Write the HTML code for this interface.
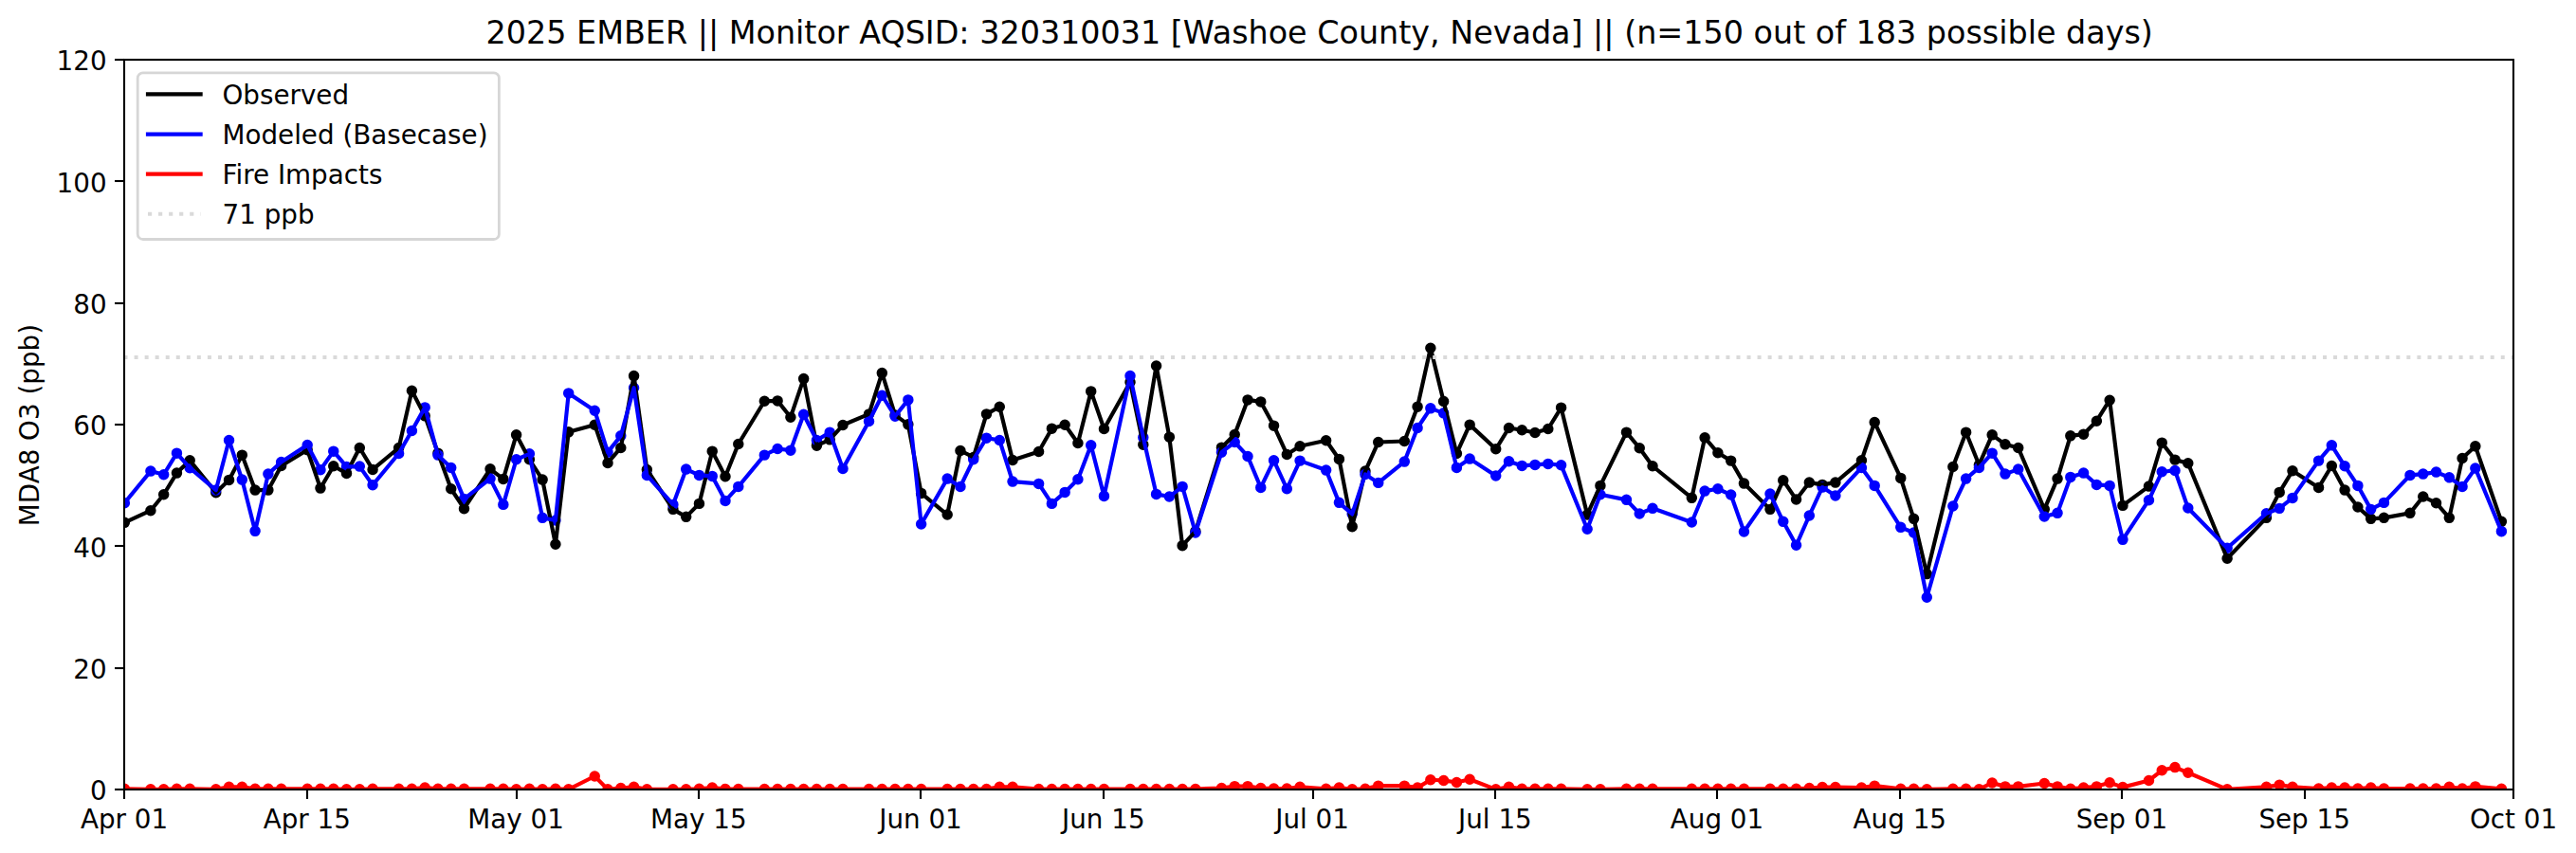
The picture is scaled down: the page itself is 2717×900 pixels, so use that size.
<!DOCTYPE html>
<html lang="en"><head><meta charset="utf-8"><title>2025 EMBER Monitor 320310031</title>
<style>html,body{margin:0;padding:0;background:#fff;}body{width:2717px;height:900px;overflow:hidden;}svg{display:block;}text{font-family:'DejaVu Sans', 'Liberation Sans', sans-serif;fill:#000;}</style>
</head><body>
<svg width="2717" height="900" viewBox="0 0 2717 900">
<rect x="0" y="0" width="2717" height="900" fill="#ffffff"/>
<defs><clipPath id="ax"><rect x="131.45" y="63.00" width="2520.00" height="770.00"/></clipPath></defs>
<g clip-path="url(#ax)" fill="#000000" stroke="#000000" stroke-width="2.78">
<circle cx="131.35" cy="551.35" r="4.35"/>
<circle cx="158.90" cy="538.70" r="4.35"/>
<circle cx="172.68" cy="521.73" r="4.35"/>
<circle cx="186.45" cy="499.10" r="4.35"/>
<circle cx="200.22" cy="485.79" r="4.35"/>
<circle cx="227.77" cy="519.73" r="4.35"/>
<circle cx="241.55" cy="506.42" r="4.35"/>
<circle cx="255.32" cy="480.13" r="4.35"/>
<circle cx="269.10" cy="517.07" r="4.35"/>
<circle cx="282.88" cy="517.07" r="4.35"/>
<circle cx="296.65" cy="491.45" r="4.35"/>
<circle cx="324.20" cy="474.81" r="4.35"/>
<circle cx="337.98" cy="515.07" r="4.35"/>
<circle cx="351.75" cy="491.78" r="4.35"/>
<circle cx="365.52" cy="499.43" r="4.35"/>
<circle cx="379.30" cy="472.48" r="4.35"/>
<circle cx="393.08" cy="495.44" r="4.35"/>
<circle cx="420.62" cy="472.48" r="4.35"/>
<circle cx="434.40" cy="412.25" r="4.35"/>
<circle cx="448.17" cy="438.87" r="4.35"/>
<circle cx="461.95" cy="478.14" r="4.35"/>
<circle cx="475.73" cy="515.74" r="4.35"/>
<circle cx="489.50" cy="536.71" r="4.35"/>
<circle cx="517.05" cy="494.78" r="4.35"/>
<circle cx="530.83" cy="505.42" r="4.35"/>
<circle cx="544.60" cy="458.84" r="4.35"/>
<circle cx="558.38" cy="484.79" r="4.35"/>
<circle cx="572.15" cy="506.09" r="4.35"/>
<circle cx="585.92" cy="574.31" r="4.35"/>
<circle cx="599.70" cy="455.84" r="4.35"/>
<circle cx="627.25" cy="448.19" r="4.35"/>
<circle cx="641.02" cy="488.45" r="4.35"/>
<circle cx="654.80" cy="472.48" r="4.35"/>
<circle cx="668.58" cy="396.61" r="4.35"/>
<circle cx="682.35" cy="495.44" r="4.35"/>
<circle cx="709.90" cy="537.37" r="4.35"/>
<circle cx="723.68" cy="545.36" r="4.35"/>
<circle cx="737.45" cy="531.38" r="4.35"/>
<circle cx="751.23" cy="476.14" r="4.35"/>
<circle cx="765.00" cy="502.76" r="4.35"/>
<circle cx="778.78" cy="468.49" r="4.35"/>
<circle cx="806.33" cy="423.23" r="4.35"/>
<circle cx="820.10" cy="422.90" r="4.35"/>
<circle cx="833.88" cy="440.20" r="4.35"/>
<circle cx="847.65" cy="399.60" r="4.35"/>
<circle cx="861.43" cy="470.15" r="4.35"/>
<circle cx="875.20" cy="463.83" r="4.35"/>
<circle cx="888.98" cy="448.52" r="4.35"/>
<circle cx="916.53" cy="436.87" r="4.35"/>
<circle cx="930.30" cy="393.61" r="4.35"/>
<circle cx="944.08" cy="437.87" r="4.35"/>
<circle cx="957.85" cy="447.85" r="4.35"/>
<circle cx="971.62" cy="520.40" r="4.35"/>
<circle cx="999.18" cy="543.03" r="4.35"/>
<circle cx="1012.95" cy="475.47" r="4.35"/>
<circle cx="1026.72" cy="482.46" r="4.35"/>
<circle cx="1040.50" cy="436.87" r="4.35"/>
<circle cx="1054.28" cy="429.22" r="4.35"/>
<circle cx="1068.05" cy="485.46" r="4.35"/>
<circle cx="1095.60" cy="476.47" r="4.35"/>
<circle cx="1109.38" cy="452.18" r="4.35"/>
<circle cx="1123.15" cy="448.19" r="4.35"/>
<circle cx="1136.92" cy="467.49" r="4.35"/>
<circle cx="1150.70" cy="412.91" r="4.35"/>
<circle cx="1164.47" cy="452.51" r="4.35"/>
<circle cx="1192.02" cy="403.26" r="4.35"/>
<circle cx="1205.80" cy="469.15" r="4.35"/>
<circle cx="1219.58" cy="385.96" r="4.35"/>
<circle cx="1233.35" cy="461.16" r="4.35"/>
<circle cx="1247.12" cy="575.64" r="4.35"/>
<circle cx="1260.90" cy="560.67" r="4.35"/>
<circle cx="1288.45" cy="472.15" r="4.35"/>
<circle cx="1302.22" cy="458.50" r="4.35"/>
<circle cx="1316.00" cy="421.90" r="4.35"/>
<circle cx="1329.77" cy="423.89" r="4.35"/>
<circle cx="1343.55" cy="449.18" r="4.35"/>
<circle cx="1357.33" cy="479.47" r="4.35"/>
<circle cx="1371.10" cy="470.82" r="4.35"/>
<circle cx="1398.65" cy="464.79" r="4.35"/>
<circle cx="1412.42" cy="484.43" r="4.35"/>
<circle cx="1426.20" cy="555.64" r="4.35"/>
<circle cx="1439.97" cy="497.07" r="4.35"/>
<circle cx="1453.75" cy="466.46" r="4.35"/>
<circle cx="1481.30" cy="465.46" r="4.35"/>
<circle cx="1495.08" cy="429.18" r="4.35"/>
<circle cx="1508.85" cy="367.29" r="4.35"/>
<circle cx="1522.62" cy="423.53" r="4.35"/>
<circle cx="1536.40" cy="478.44" r="4.35"/>
<circle cx="1550.17" cy="448.15" r="4.35"/>
<circle cx="1577.72" cy="473.78" r="4.35"/>
<circle cx="1591.50" cy="451.48" r="4.35"/>
<circle cx="1605.27" cy="453.81" r="4.35"/>
<circle cx="1619.05" cy="456.47" r="4.35"/>
<circle cx="1632.83" cy="452.48" r="4.35"/>
<circle cx="1646.60" cy="430.18" r="4.35"/>
<circle cx="1674.15" cy="543.00" r="4.35"/>
<circle cx="1687.92" cy="512.38" r="4.35"/>
<circle cx="1715.47" cy="456.14" r="4.35"/>
<circle cx="1729.25" cy="472.78" r="4.35"/>
<circle cx="1743.02" cy="491.75" r="4.35"/>
<circle cx="1784.35" cy="525.36" r="4.35"/>
<circle cx="1798.12" cy="461.83" r="4.35"/>
<circle cx="1811.90" cy="477.80" r="4.35"/>
<circle cx="1825.67" cy="486.12" r="4.35"/>
<circle cx="1839.45" cy="510.08" r="4.35"/>
<circle cx="1867.00" cy="537.37" r="4.35"/>
<circle cx="1880.77" cy="506.76" r="4.35"/>
<circle cx="1894.55" cy="527.05" r="4.35"/>
<circle cx="1908.33" cy="509.08" r="4.35"/>
<circle cx="1922.10" cy="511.41" r="4.35"/>
<circle cx="1935.88" cy="509.08" r="4.35"/>
<circle cx="1963.42" cy="485.79" r="4.35"/>
<circle cx="1977.20" cy="445.52" r="4.35"/>
<circle cx="2004.75" cy="504.43" r="4.35"/>
<circle cx="2018.52" cy="547.35" r="4.35"/>
<circle cx="2032.30" cy="605.59" r="4.35"/>
<circle cx="2059.85" cy="492.45" r="4.35"/>
<circle cx="2073.62" cy="456.17" r="4.35"/>
<circle cx="2087.40" cy="490.45" r="4.35"/>
<circle cx="2101.18" cy="458.84" r="4.35"/>
<circle cx="2114.95" cy="468.82" r="4.35"/>
<circle cx="2128.72" cy="472.48" r="4.35"/>
<circle cx="2156.28" cy="537.37" r="4.35"/>
<circle cx="2170.05" cy="505.09" r="4.35"/>
<circle cx="2183.82" cy="459.83" r="4.35"/>
<circle cx="2197.60" cy="458.17" r="4.35"/>
<circle cx="2211.38" cy="444.19" r="4.35"/>
<circle cx="2225.15" cy="422.23" r="4.35"/>
<circle cx="2238.93" cy="533.38" r="4.35"/>
<circle cx="2266.47" cy="513.08" r="4.35"/>
<circle cx="2280.25" cy="467.15" r="4.35"/>
<circle cx="2294.03" cy="485.12" r="4.35"/>
<circle cx="2307.80" cy="488.79" r="4.35"/>
<circle cx="2349.12" cy="589.28" r="4.35"/>
<circle cx="2390.45" cy="546.36" r="4.35"/>
<circle cx="2404.22" cy="519.40" r="4.35"/>
<circle cx="2418.00" cy="496.77" r="4.35"/>
<circle cx="2445.55" cy="514.41" r="4.35"/>
<circle cx="2459.32" cy="491.45" r="4.35"/>
<circle cx="2473.10" cy="517.07" r="4.35"/>
<circle cx="2486.88" cy="535.04" r="4.35"/>
<circle cx="2500.65" cy="547.35" r="4.35"/>
<circle cx="2514.43" cy="546.36" r="4.35"/>
<circle cx="2541.97" cy="541.36" r="4.35"/>
<circle cx="2555.75" cy="524.06" r="4.35"/>
<circle cx="2569.53" cy="530.72" r="4.35"/>
<circle cx="2583.30" cy="546.36" r="4.35"/>
<circle cx="2597.07" cy="483.46" r="4.35"/>
<circle cx="2610.85" cy="470.82" r="4.35"/>
<circle cx="2638.40" cy="550.35" r="4.35"/>
</g>
<g clip-path="url(#ax)" fill="#0000ff" stroke="#0000ff" stroke-width="2.78">
<circle cx="131.35" cy="530.72" r="4.35"/>
<circle cx="158.90" cy="497.10" r="4.35"/>
<circle cx="172.68" cy="500.77" r="4.35"/>
<circle cx="186.45" cy="478.14" r="4.35"/>
<circle cx="200.22" cy="493.78" r="4.35"/>
<circle cx="227.77" cy="517.07" r="4.35"/>
<circle cx="241.55" cy="464.49" r="4.35"/>
<circle cx="255.32" cy="506.09" r="4.35"/>
<circle cx="269.10" cy="560.33" r="4.35"/>
<circle cx="282.88" cy="500.10" r="4.35"/>
<circle cx="296.65" cy="487.45" r="4.35"/>
<circle cx="324.20" cy="469.48" r="4.35"/>
<circle cx="337.98" cy="495.77" r="4.35"/>
<circle cx="351.75" cy="476.14" r="4.35"/>
<circle cx="365.52" cy="492.45" r="4.35"/>
<circle cx="379.30" cy="492.11" r="4.35"/>
<circle cx="393.08" cy="511.75" r="4.35"/>
<circle cx="420.62" cy="478.47" r="4.35"/>
<circle cx="434.40" cy="454.51" r="4.35"/>
<circle cx="448.17" cy="429.88" r="4.35"/>
<circle cx="461.95" cy="480.13" r="4.35"/>
<circle cx="475.73" cy="493.44" r="4.35"/>
<circle cx="489.50" cy="526.39" r="4.35"/>
<circle cx="517.05" cy="505.09" r="4.35"/>
<circle cx="530.83" cy="532.38" r="4.35"/>
<circle cx="544.60" cy="484.79" r="4.35"/>
<circle cx="558.38" cy="478.80" r="4.35"/>
<circle cx="572.15" cy="546.36" r="4.35"/>
<circle cx="585.92" cy="549.02" r="4.35"/>
<circle cx="599.70" cy="414.91" r="4.35"/>
<circle cx="627.25" cy="433.21" r="4.35"/>
<circle cx="641.02" cy="477.14" r="4.35"/>
<circle cx="654.80" cy="459.83" r="4.35"/>
<circle cx="668.58" cy="409.25" r="4.35"/>
<circle cx="682.35" cy="501.43" r="4.35"/>
<circle cx="709.90" cy="532.38" r="4.35"/>
<circle cx="723.68" cy="495.11" r="4.35"/>
<circle cx="737.45" cy="501.43" r="4.35"/>
<circle cx="751.23" cy="502.43" r="4.35"/>
<circle cx="765.00" cy="528.39" r="4.35"/>
<circle cx="778.78" cy="513.41" r="4.35"/>
<circle cx="806.33" cy="480.13" r="4.35"/>
<circle cx="820.10" cy="473.48" r="4.35"/>
<circle cx="833.88" cy="475.14" r="4.35"/>
<circle cx="847.65" cy="437.20" r="4.35"/>
<circle cx="861.43" cy="464.49" r="4.35"/>
<circle cx="875.20" cy="456.17" r="4.35"/>
<circle cx="888.98" cy="494.44" r="4.35"/>
<circle cx="916.53" cy="444.53" r="4.35"/>
<circle cx="930.30" cy="417.24" r="4.35"/>
<circle cx="944.08" cy="439.20" r="4.35"/>
<circle cx="957.85" cy="421.90" r="4.35"/>
<circle cx="971.62" cy="553.01" r="4.35"/>
<circle cx="999.18" cy="505.09" r="4.35"/>
<circle cx="1012.95" cy="513.41" r="4.35"/>
<circle cx="1026.72" cy="484.79" r="4.35"/>
<circle cx="1040.50" cy="462.16" r="4.35"/>
<circle cx="1054.28" cy="464.49" r="4.35"/>
<circle cx="1068.05" cy="508.09" r="4.35"/>
<circle cx="1095.60" cy="510.42" r="4.35"/>
<circle cx="1109.38" cy="531.38" r="4.35"/>
<circle cx="1123.15" cy="519.40" r="4.35"/>
<circle cx="1136.92" cy="505.76" r="4.35"/>
<circle cx="1150.70" cy="469.82" r="4.35"/>
<circle cx="1164.47" cy="523.39" r="4.35"/>
<circle cx="1192.02" cy="396.61" r="4.35"/>
<circle cx="1205.80" cy="461.50" r="4.35"/>
<circle cx="1219.58" cy="521.40" r="4.35"/>
<circle cx="1233.35" cy="524.06" r="4.35"/>
<circle cx="1247.12" cy="513.41" r="4.35"/>
<circle cx="1260.90" cy="562.00" r="4.35"/>
<circle cx="1288.45" cy="477.14" r="4.35"/>
<circle cx="1302.22" cy="466.49" r="4.35"/>
<circle cx="1316.00" cy="481.46" r="4.35"/>
<circle cx="1329.77" cy="514.41" r="4.35"/>
<circle cx="1343.55" cy="485.79" r="4.35"/>
<circle cx="1357.33" cy="515.74" r="4.35"/>
<circle cx="1371.10" cy="486.12" r="4.35"/>
<circle cx="1398.65" cy="496.07" r="4.35"/>
<circle cx="1412.42" cy="530.35" r="4.35"/>
<circle cx="1426.20" cy="542.33" r="4.35"/>
<circle cx="1439.97" cy="500.40" r="4.35"/>
<circle cx="1453.75" cy="509.38" r="4.35"/>
<circle cx="1481.30" cy="487.09" r="4.35"/>
<circle cx="1495.08" cy="451.48" r="4.35"/>
<circle cx="1508.85" cy="430.85" r="4.35"/>
<circle cx="1522.62" cy="435.84" r="4.35"/>
<circle cx="1536.40" cy="493.41" r="4.35"/>
<circle cx="1550.17" cy="484.09" r="4.35"/>
<circle cx="1577.72" cy="502.06" r="4.35"/>
<circle cx="1591.50" cy="486.76" r="4.35"/>
<circle cx="1605.27" cy="491.41" r="4.35"/>
<circle cx="1619.05" cy="490.42" r="4.35"/>
<circle cx="1632.83" cy="489.42" r="4.35"/>
<circle cx="1646.60" cy="490.75" r="4.35"/>
<circle cx="1674.15" cy="558.30" r="4.35"/>
<circle cx="1687.92" cy="521.70" r="4.35"/>
<circle cx="1715.47" cy="527.35" r="4.35"/>
<circle cx="1729.25" cy="542.00" r="4.35"/>
<circle cx="1743.02" cy="536.34" r="4.35"/>
<circle cx="1784.35" cy="550.98" r="4.35"/>
<circle cx="1798.12" cy="518.07" r="4.35"/>
<circle cx="1811.90" cy="515.74" r="4.35"/>
<circle cx="1825.67" cy="522.06" r="4.35"/>
<circle cx="1839.45" cy="561.00" r="4.35"/>
<circle cx="1867.00" cy="521.06" r="4.35"/>
<circle cx="1880.77" cy="550.35" r="4.35"/>
<circle cx="1894.55" cy="575.31" r="4.35"/>
<circle cx="1908.33" cy="544.03" r="4.35"/>
<circle cx="1922.10" cy="514.08" r="4.35"/>
<circle cx="1935.88" cy="523.06" r="4.35"/>
<circle cx="1963.42" cy="493.44" r="4.35"/>
<circle cx="1977.20" cy="512.41" r="4.35"/>
<circle cx="2004.75" cy="556.34" r="4.35"/>
<circle cx="2018.52" cy="562.00" r="4.35"/>
<circle cx="2032.30" cy="630.22" r="4.35"/>
<circle cx="2059.85" cy="534.04" r="4.35"/>
<circle cx="2073.62" cy="505.09" r="4.35"/>
<circle cx="2087.40" cy="493.44" r="4.35"/>
<circle cx="2101.18" cy="478.14" r="4.35"/>
<circle cx="2114.95" cy="500.10" r="4.35"/>
<circle cx="2128.72" cy="495.11" r="4.35"/>
<circle cx="2156.28" cy="545.02" r="4.35"/>
<circle cx="2170.05" cy="541.36" r="4.35"/>
<circle cx="2183.82" cy="503.43" r="4.35"/>
<circle cx="2197.60" cy="499.10" r="4.35"/>
<circle cx="2211.38" cy="511.41" r="4.35"/>
<circle cx="2225.15" cy="512.41" r="4.35"/>
<circle cx="2238.93" cy="569.32" r="4.35"/>
<circle cx="2266.47" cy="527.72" r="4.35"/>
<circle cx="2280.25" cy="497.77" r="4.35"/>
<circle cx="2294.03" cy="496.44" r="4.35"/>
<circle cx="2307.80" cy="536.04" r="4.35"/>
<circle cx="2349.12" cy="578.30" r="4.35"/>
<circle cx="2390.45" cy="541.70" r="4.35"/>
<circle cx="2404.22" cy="536.37" r="4.35"/>
<circle cx="2418.00" cy="525.39" r="4.35"/>
<circle cx="2445.55" cy="486.12" r="4.35"/>
<circle cx="2459.32" cy="469.82" r="4.35"/>
<circle cx="2473.10" cy="491.78" r="4.35"/>
<circle cx="2486.88" cy="512.41" r="4.35"/>
<circle cx="2500.65" cy="537.37" r="4.35"/>
<circle cx="2514.43" cy="530.38" r="4.35"/>
<circle cx="2541.97" cy="501.43" r="4.35"/>
<circle cx="2555.75" cy="500.10" r="4.35"/>
<circle cx="2569.53" cy="498.10" r="4.35"/>
<circle cx="2583.30" cy="503.76" r="4.35"/>
<circle cx="2597.07" cy="513.41" r="4.35"/>
<circle cx="2610.85" cy="494.11" r="4.35"/>
<circle cx="2638.40" cy="560.67" r="4.35"/>
</g>
<g clip-path="url(#ax)" fill="#ff0000" stroke="#ff0000" stroke-width="2.78">
<circle cx="131.35" cy="832.35" r="4.35"/>
<circle cx="158.90" cy="832.85" r="4.35"/>
<circle cx="172.68" cy="832.85" r="4.35"/>
<circle cx="186.45" cy="832.35" r="4.35"/>
<circle cx="200.22" cy="832.35" r="4.35"/>
<circle cx="227.77" cy="832.85" r="4.35"/>
<circle cx="241.55" cy="830.36" r="4.35"/>
<circle cx="255.32" cy="830.36" r="4.35"/>
<circle cx="269.10" cy="832.35" r="4.35"/>
<circle cx="282.88" cy="832.35" r="4.35"/>
<circle cx="296.65" cy="832.35" r="4.35"/>
<circle cx="324.20" cy="832.35" r="4.35"/>
<circle cx="337.98" cy="832.35" r="4.35"/>
<circle cx="351.75" cy="832.35" r="4.35"/>
<circle cx="365.52" cy="832.85" r="4.35"/>
<circle cx="379.30" cy="832.85" r="4.35"/>
<circle cx="393.08" cy="832.35" r="4.35"/>
<circle cx="420.62" cy="832.35" r="4.35"/>
<circle cx="434.40" cy="832.35" r="4.35"/>
<circle cx="448.17" cy="831.11" r="4.35"/>
<circle cx="461.95" cy="832.35" r="4.35"/>
<circle cx="475.73" cy="832.35" r="4.35"/>
<circle cx="489.50" cy="832.35" r="4.35"/>
<circle cx="517.05" cy="832.35" r="4.35"/>
<circle cx="530.83" cy="832.35" r="4.35"/>
<circle cx="544.60" cy="832.85" r="4.35"/>
<circle cx="558.38" cy="832.35" r="4.35"/>
<circle cx="572.15" cy="832.85" r="4.35"/>
<circle cx="585.92" cy="832.35" r="4.35"/>
<circle cx="599.70" cy="832.85" r="4.35"/>
<circle cx="627.25" cy="819.01" r="4.35"/>
<circle cx="641.02" cy="832.85" r="4.35"/>
<circle cx="654.80" cy="831.61" r="4.35"/>
<circle cx="668.58" cy="830.36" r="4.35"/>
<circle cx="682.35" cy="832.85" r="4.35"/>
<circle cx="709.90" cy="832.85" r="4.35"/>
<circle cx="723.68" cy="832.85" r="4.35"/>
<circle cx="737.45" cy="832.35" r="4.35"/>
<circle cx="751.23" cy="831.11" r="4.35"/>
<circle cx="765.00" cy="832.47" r="4.35"/>
<circle cx="778.78" cy="832.47" r="4.35"/>
<circle cx="806.33" cy="832.47" r="4.35"/>
<circle cx="820.10" cy="832.47" r="4.35"/>
<circle cx="833.88" cy="832.47" r="4.35"/>
<circle cx="847.65" cy="832.47" r="4.35"/>
<circle cx="861.43" cy="832.47" r="4.35"/>
<circle cx="875.20" cy="832.47" r="4.35"/>
<circle cx="888.98" cy="832.47" r="4.35"/>
<circle cx="916.53" cy="832.47" r="4.35"/>
<circle cx="930.30" cy="832.47" r="4.35"/>
<circle cx="944.08" cy="832.47" r="4.35"/>
<circle cx="957.85" cy="832.47" r="4.35"/>
<circle cx="971.62" cy="832.47" r="4.35"/>
<circle cx="999.18" cy="832.47" r="4.35"/>
<circle cx="1012.95" cy="832.47" r="4.35"/>
<circle cx="1026.72" cy="832.47" r="4.35"/>
<circle cx="1040.50" cy="832.47" r="4.35"/>
<circle cx="1054.28" cy="830.36" r="4.35"/>
<circle cx="1068.05" cy="830.36" r="4.35"/>
<circle cx="1095.60" cy="832.47" r="4.35"/>
<circle cx="1109.38" cy="832.47" r="4.35"/>
<circle cx="1123.15" cy="832.47" r="4.35"/>
<circle cx="1136.92" cy="832.47" r="4.35"/>
<circle cx="1150.70" cy="832.47" r="4.35"/>
<circle cx="1164.47" cy="832.47" r="4.35"/>
<circle cx="1192.02" cy="832.47" r="4.35"/>
<circle cx="1205.80" cy="832.47" r="4.35"/>
<circle cx="1219.58" cy="832.47" r="4.35"/>
<circle cx="1233.35" cy="832.47" r="4.35"/>
<circle cx="1247.12" cy="832.47" r="4.35"/>
<circle cx="1260.90" cy="832.47" r="4.35"/>
<circle cx="1288.45" cy="831.61" r="4.35"/>
<circle cx="1302.22" cy="829.62" r="4.35"/>
<circle cx="1316.00" cy="829.62" r="4.35"/>
<circle cx="1329.77" cy="831.61" r="4.35"/>
<circle cx="1343.55" cy="832.10" r="4.35"/>
<circle cx="1357.33" cy="832.10" r="4.35"/>
<circle cx="1371.10" cy="830.36" r="4.35"/>
<circle cx="1398.65" cy="832.35" r="4.35"/>
<circle cx="1412.42" cy="831.11" r="4.35"/>
<circle cx="1426.20" cy="832.85" r="4.35"/>
<circle cx="1439.97" cy="832.35" r="4.35"/>
<circle cx="1453.75" cy="829.12" r="4.35"/>
<circle cx="1481.30" cy="829.12" r="4.35"/>
<circle cx="1495.08" cy="831.11" r="4.35"/>
<circle cx="1508.85" cy="822.73" r="4.35"/>
<circle cx="1522.62" cy="823.48" r="4.35"/>
<circle cx="1536.40" cy="825.47" r="4.35"/>
<circle cx="1550.17" cy="822.24" r="4.35"/>
<circle cx="1577.72" cy="832.85" r="4.35"/>
<circle cx="1591.50" cy="830.36" r="4.35"/>
<circle cx="1605.27" cy="832.35" r="4.35"/>
<circle cx="1619.05" cy="832.35" r="4.35"/>
<circle cx="1632.83" cy="832.35" r="4.35"/>
<circle cx="1646.60" cy="832.35" r="4.35"/>
<circle cx="1674.15" cy="832.85" r="4.35"/>
<circle cx="1687.92" cy="832.85" r="4.35"/>
<circle cx="1715.47" cy="832.35" r="4.35"/>
<circle cx="1729.25" cy="832.35" r="4.35"/>
<circle cx="1743.02" cy="832.35" r="4.35"/>
<circle cx="1784.35" cy="832.35" r="4.35"/>
<circle cx="1798.12" cy="832.35" r="4.35"/>
<circle cx="1811.90" cy="832.35" r="4.35"/>
<circle cx="1825.67" cy="832.35" r="4.35"/>
<circle cx="1839.45" cy="832.35" r="4.35"/>
<circle cx="1867.00" cy="832.35" r="4.35"/>
<circle cx="1880.77" cy="832.35" r="4.35"/>
<circle cx="1894.55" cy="832.35" r="4.35"/>
<circle cx="1908.33" cy="831.61" r="4.35"/>
<circle cx="1922.10" cy="830.61" r="4.35"/>
<circle cx="1935.88" cy="830.61" r="4.35"/>
<circle cx="1963.42" cy="831.11" r="4.35"/>
<circle cx="1977.20" cy="829.12" r="4.35"/>
<circle cx="2004.75" cy="832.35" r="4.35"/>
<circle cx="2018.52" cy="832.35" r="4.35"/>
<circle cx="2032.30" cy="832.85" r="4.35"/>
<circle cx="2059.85" cy="832.35" r="4.35"/>
<circle cx="2073.62" cy="832.35" r="4.35"/>
<circle cx="2087.40" cy="832.85" r="4.35"/>
<circle cx="2101.18" cy="825.96" r="4.35"/>
<circle cx="2114.95" cy="829.87" r="4.35"/>
<circle cx="2128.72" cy="829.87" r="4.35"/>
<circle cx="2156.28" cy="826.46" r="4.35"/>
<circle cx="2170.05" cy="829.87" r="4.35"/>
<circle cx="2183.82" cy="832.35" r="4.35"/>
<circle cx="2197.60" cy="831.11" r="4.35"/>
<circle cx="2211.38" cy="829.87" r="4.35"/>
<circle cx="2225.15" cy="825.71" r="4.35"/>
<circle cx="2238.93" cy="830.61" r="4.35"/>
<circle cx="2266.47" cy="823.48" r="4.35"/>
<circle cx="2280.25" cy="812.80" r="4.35"/>
<circle cx="2294.03" cy="809.57" r="4.35"/>
<circle cx="2307.80" cy="815.28" r="4.35"/>
<circle cx="2349.12" cy="832.85" r="4.35"/>
<circle cx="2390.45" cy="830.36" r="4.35"/>
<circle cx="2404.22" cy="828.12" r="4.35"/>
<circle cx="2418.00" cy="830.36" r="4.35"/>
<circle cx="2445.55" cy="832.10" r="4.35"/>
<circle cx="2459.32" cy="831.11" r="4.35"/>
<circle cx="2473.10" cy="831.11" r="4.35"/>
<circle cx="2486.88" cy="832.10" r="4.35"/>
<circle cx="2500.65" cy="831.11" r="4.35"/>
<circle cx="2514.43" cy="832.10" r="4.35"/>
<circle cx="2541.97" cy="832.10" r="4.35"/>
<circle cx="2555.75" cy="832.10" r="4.35"/>
<circle cx="2569.53" cy="832.10" r="4.35"/>
<circle cx="2583.30" cy="830.36" r="4.35"/>
<circle cx="2597.07" cy="832.10" r="4.35"/>
<circle cx="2610.85" cy="829.87" r="4.35"/>
<circle cx="2638.40" cy="832.35" r="4.35"/>
</g>
<polyline clip-path="url(#ax)" points="131.35,551.35 158.90,538.70 172.68,521.73 186.45,499.10 200.22,485.79 227.77,519.73 241.55,506.42 255.32,480.13 269.10,517.07 282.88,517.07 296.65,491.45 324.20,474.81 337.98,515.07 351.75,491.78 365.52,499.43 379.30,472.48 393.08,495.44 420.62,472.48 434.40,412.25 448.17,438.87 461.95,478.14 475.73,515.74 489.50,536.71 517.05,494.78 530.83,505.42 544.60,458.84 558.38,484.79 572.15,506.09 585.92,574.31 599.70,455.84 627.25,448.19 641.02,488.45 654.80,472.48 668.58,396.61 682.35,495.44 709.90,537.37 723.68,545.36 737.45,531.38 751.23,476.14 765.00,502.76 778.78,468.49 806.33,423.23 820.10,422.90 833.88,440.20 847.65,399.60 861.43,470.15 875.20,463.83 888.98,448.52 916.53,436.87 930.30,393.61 944.08,437.87 957.85,447.85 971.62,520.40 999.18,543.03 1012.95,475.47 1026.72,482.46 1040.50,436.87 1054.28,429.22 1068.05,485.46 1095.60,476.47 1109.38,452.18 1123.15,448.19 1136.92,467.49 1150.70,412.91 1164.47,452.51 1192.02,403.26 1205.80,469.15 1219.58,385.96 1233.35,461.16 1247.12,575.64 1260.90,560.67 1288.45,472.15 1302.22,458.50 1316.00,421.90 1329.77,423.89 1343.55,449.18 1357.33,479.47 1371.10,470.82 1398.65,464.79 1412.42,484.43 1426.20,555.64 1439.97,497.07 1453.75,466.46 1481.30,465.46 1495.08,429.18 1508.85,367.29 1522.62,423.53 1536.40,478.44 1550.17,448.15 1577.72,473.78 1591.50,451.48 1605.27,453.81 1619.05,456.47 1632.83,452.48 1646.60,430.18 1674.15,543.00 1687.92,512.38 1715.47,456.14 1729.25,472.78 1743.02,491.75 1784.35,525.36 1798.12,461.83 1811.90,477.80 1825.67,486.12 1839.45,510.08 1867.00,537.37 1880.77,506.76 1894.55,527.05 1908.33,509.08 1922.10,511.41 1935.88,509.08 1963.42,485.79 1977.20,445.52 2004.75,504.43 2018.52,547.35 2032.30,605.59 2059.85,492.45 2073.62,456.17 2087.40,490.45 2101.18,458.84 2114.95,468.82 2128.72,472.48 2156.28,537.37 2170.05,505.09 2183.82,459.83 2197.60,458.17 2211.38,444.19 2225.15,422.23 2238.93,533.38 2266.47,513.08 2280.25,467.15 2294.03,485.12 2307.80,488.79 2349.12,589.28 2390.45,546.36 2404.22,519.40 2418.00,496.77 2445.55,514.41 2459.32,491.45 2473.10,517.07 2486.88,535.04 2500.65,547.35 2514.43,546.36 2541.97,541.36 2555.75,524.06 2569.53,530.72 2583.30,546.36 2597.07,483.46 2610.85,470.82 2638.40,550.35" fill="none" stroke="#000000" stroke-width="4.17" stroke-linejoin="round" stroke-linecap="butt"/>
<polyline clip-path="url(#ax)" points="131.35,530.72 158.90,497.10 172.68,500.77 186.45,478.14 200.22,493.78 227.77,517.07 241.55,464.49 255.32,506.09 269.10,560.33 282.88,500.10 296.65,487.45 324.20,469.48 337.98,495.77 351.75,476.14 365.52,492.45 379.30,492.11 393.08,511.75 420.62,478.47 434.40,454.51 448.17,429.88 461.95,480.13 475.73,493.44 489.50,526.39 517.05,505.09 530.83,532.38 544.60,484.79 558.38,478.80 572.15,546.36 585.92,549.02 599.70,414.91 627.25,433.21 641.02,477.14 654.80,459.83 668.58,409.25 682.35,501.43 709.90,532.38 723.68,495.11 737.45,501.43 751.23,502.43 765.00,528.39 778.78,513.41 806.33,480.13 820.10,473.48 833.88,475.14 847.65,437.20 861.43,464.49 875.20,456.17 888.98,494.44 916.53,444.53 930.30,417.24 944.08,439.20 957.85,421.90 971.62,553.01 999.18,505.09 1012.95,513.41 1026.72,484.79 1040.50,462.16 1054.28,464.49 1068.05,508.09 1095.60,510.42 1109.38,531.38 1123.15,519.40 1136.92,505.76 1150.70,469.82 1164.47,523.39 1192.02,396.61 1205.80,461.50 1219.58,521.40 1233.35,524.06 1247.12,513.41 1260.90,562.00 1288.45,477.14 1302.22,466.49 1316.00,481.46 1329.77,514.41 1343.55,485.79 1357.33,515.74 1371.10,486.12 1398.65,496.07 1412.42,530.35 1426.20,542.33 1439.97,500.40 1453.75,509.38 1481.30,487.09 1495.08,451.48 1508.85,430.85 1522.62,435.84 1536.40,493.41 1550.17,484.09 1577.72,502.06 1591.50,486.76 1605.27,491.41 1619.05,490.42 1632.83,489.42 1646.60,490.75 1674.15,558.30 1687.92,521.70 1715.47,527.35 1729.25,542.00 1743.02,536.34 1784.35,550.98 1798.12,518.07 1811.90,515.74 1825.67,522.06 1839.45,561.00 1867.00,521.06 1880.77,550.35 1894.55,575.31 1908.33,544.03 1922.10,514.08 1935.88,523.06 1963.42,493.44 1977.20,512.41 2004.75,556.34 2018.52,562.00 2032.30,630.22 2059.85,534.04 2073.62,505.09 2087.40,493.44 2101.18,478.14 2114.95,500.10 2128.72,495.11 2156.28,545.02 2170.05,541.36 2183.82,503.43 2197.60,499.10 2211.38,511.41 2225.15,512.41 2238.93,569.32 2266.47,527.72 2280.25,497.77 2294.03,496.44 2307.80,536.04 2349.12,578.30 2390.45,541.70 2404.22,536.37 2418.00,525.39 2445.55,486.12 2459.32,469.82 2473.10,491.78 2486.88,512.41 2500.65,537.37 2514.43,530.38 2541.97,501.43 2555.75,500.10 2569.53,498.10 2583.30,503.76 2597.07,513.41 2610.85,494.11 2638.40,560.67" fill="none" stroke="#0000ff" stroke-width="4.17" stroke-linejoin="round" stroke-linecap="butt"/>
<polyline clip-path="url(#ax)" points="131.35,832.35 158.90,832.85 172.68,832.85 186.45,832.35 200.22,832.35 227.77,832.85 241.55,830.36 255.32,830.36 269.10,832.35 282.88,832.35 296.65,832.35 324.20,832.35 337.98,832.35 351.75,832.35 365.52,832.85 379.30,832.85 393.08,832.35 420.62,832.35 434.40,832.35 448.17,831.11 461.95,832.35 475.73,832.35 489.50,832.35 517.05,832.35 530.83,832.35 544.60,832.85 558.38,832.35 572.15,832.85 585.92,832.35 599.70,832.85 627.25,819.01 641.02,832.85 654.80,831.61 668.58,830.36 682.35,832.85 709.90,832.85 723.68,832.85 737.45,832.35 751.23,831.11 765.00,832.47 778.78,832.47 806.33,832.47 820.10,832.47 833.88,832.47 847.65,832.47 861.43,832.47 875.20,832.47 888.98,832.47 916.53,832.47 930.30,832.47 944.08,832.47 957.85,832.47 971.62,832.47 999.18,832.47 1012.95,832.47 1026.72,832.47 1040.50,832.47 1054.28,830.36 1068.05,830.36 1095.60,832.47 1109.38,832.47 1123.15,832.47 1136.92,832.47 1150.70,832.47 1164.47,832.47 1192.02,832.47 1205.80,832.47 1219.58,832.47 1233.35,832.47 1247.12,832.47 1260.90,832.47 1288.45,831.61 1302.22,829.62 1316.00,829.62 1329.77,831.61 1343.55,832.10 1357.33,832.10 1371.10,830.36 1398.65,832.35 1412.42,831.11 1426.20,832.85 1439.97,832.35 1453.75,829.12 1481.30,829.12 1495.08,831.11 1508.85,822.73 1522.62,823.48 1536.40,825.47 1550.17,822.24 1577.72,832.85 1591.50,830.36 1605.27,832.35 1619.05,832.35 1632.83,832.35 1646.60,832.35 1674.15,832.85 1687.92,832.85 1715.47,832.35 1729.25,832.35 1743.02,832.35 1784.35,832.35 1798.12,832.35 1811.90,832.35 1825.67,832.35 1839.45,832.35 1867.00,832.35 1880.77,832.35 1894.55,832.35 1908.33,831.61 1922.10,830.61 1935.88,830.61 1963.42,831.11 1977.20,829.12 2004.75,832.35 2018.52,832.35 2032.30,832.85 2059.85,832.35 2073.62,832.35 2087.40,832.85 2101.18,825.96 2114.95,829.87 2128.72,829.87 2156.28,826.46 2170.05,829.87 2183.82,832.35 2197.60,831.11 2211.38,829.87 2225.15,825.71 2238.93,830.61 2266.47,823.48 2280.25,812.80 2294.03,809.57 2307.80,815.28 2349.12,832.85 2390.45,830.36 2404.22,828.12 2418.00,830.36 2445.55,832.10 2459.32,831.11 2473.10,831.11 2486.88,832.10 2500.65,831.11 2514.43,832.10 2541.97,832.10 2555.75,832.10 2569.53,832.10 2583.30,830.36 2597.07,832.10 2610.85,829.87 2638.40,832.35" fill="none" stroke="#ff0000" stroke-width="4.17" stroke-linejoin="round" stroke-linecap="butt"/>
<line x1="130.55" y1="377" x2="2651.45" y2="377" stroke="#dadada" stroke-width="4" stroke-dasharray="4.0 7.045" clip-path="url(#ax)"/>
<rect x="131" y="63" width="2520" height="770" fill="none" stroke="#000" stroke-width="2.1" stroke-linejoin="miter"/>
<g stroke="#000" stroke-width="2.1">
<line x1="131.00" y1="833.00" x2="131.00" y2="843.00"/>
<line x1="324.00" y1="833.00" x2="324.00" y2="843.00"/>
<line x1="545.00" y1="833.00" x2="545.00" y2="843.00"/>
<line x1="737.00" y1="833.00" x2="737.00" y2="843.00"/>
<line x1="971.00" y1="833.00" x2="971.00" y2="843.00"/>
<line x1="1164.00" y1="833.00" x2="1164.00" y2="843.00"/>
<line x1="1385.00" y1="833.00" x2="1385.00" y2="843.00"/>
<line x1="1577.00" y1="833.00" x2="1577.00" y2="843.00"/>
<line x1="1811.00" y1="833.00" x2="1811.00" y2="843.00"/>
<line x1="2004.00" y1="833.00" x2="2004.00" y2="843.00"/>
<line x1="2238.00" y1="833.00" x2="2238.00" y2="843.00"/>
<line x1="2431.00" y1="833.00" x2="2431.00" y2="843.00"/>
<line x1="2651.00" y1="833.00" x2="2651.00" y2="843.00"/>
<line x1="121.00" y1="833.00" x2="131.00" y2="833.00"/>
<line x1="121.00" y1="705.00" x2="131.00" y2="705.00"/>
<line x1="121.00" y1="576.00" x2="131.00" y2="576.00"/>
<line x1="121.00" y1="448.00" x2="131.00" y2="448.00"/>
<line x1="121.00" y1="320.00" x2="131.00" y2="320.00"/>
<line x1="121.00" y1="191.00" x2="131.00" y2="191.00"/>
<line x1="121.00" y1="63.00" x2="131.00" y2="63.00"/>
</g>
<g font-size="27.78" text-anchor="middle">
<text x="131.00" y="873.60">Apr 01</text>
<text x="323.79" y="873.60">Apr 15</text>
<text x="544.11" y="873.60">May 01</text>
<text x="736.90" y="873.60">May 15</text>
<text x="971.00" y="873.60">Jun 01</text>
<text x="1163.79" y="873.60">Jun 15</text>
<text x="1384.11" y="873.60">Jul 01</text>
<text x="1576.90" y="873.60">Jul 15</text>
<text x="1811.00" y="873.60">Aug 01</text>
<text x="2003.79" y="873.60">Aug 15</text>
<text x="2237.89" y="873.60">Sep 01</text>
<text x="2430.67" y="873.60">Sep 15</text>
<text x="2651.00" y="873.60">Oct 01</text>
</g>
<g font-size="27.78" text-anchor="end">
<text x="112.60" y="844.25">0</text>
<text x="112.60" y="715.92">20</text>
<text x="112.60" y="587.60">40</text>
<text x="112.60" y="459.27">60</text>
<text x="112.60" y="330.95">80</text>
<text x="112.60" y="202.62">100</text>
<text x="112.60" y="74.29">120</text>
</g>
<text font-size="27.78" text-anchor="middle" transform="translate(41.00,448.60) rotate(-90)">MDA8 O3 (ppb)</text>
<text font-size="33.36" text-anchor="middle" x="1391.70" y="45.60">2025 EMBER || Monitor AQSID: 320310031 [Washoe County, Nevada] || (n=150 out of 183 possible days)</text>
<rect x="145.20" y="76.80" width="381.20" height="175.70" rx="5.6" ry="5.6" fill="#ffffff" fill-opacity="0.8" stroke="#cccccc" stroke-opacity="0.8" stroke-width="2.78"/>
<line x1="156" y1="99.40" x2="211.6" y2="99.40" stroke="#000000" stroke-width="4.17" stroke-linecap="square"/>
<line x1="156" y1="141.60" x2="211.6" y2="141.60" stroke="#0000ff" stroke-width="4.17" stroke-linecap="square"/>
<line x1="156" y1="183.70" x2="211.6" y2="183.70" stroke="#ff0000" stroke-width="4.17" stroke-linecap="square"/>
<line x1="156" y1="225.80" x2="211.6" y2="225.80" stroke="#dadada" stroke-width="4" stroke-dasharray="4.17 6.875"/>
<g font-size="27.78">
<text x="234.5" y="109.90">Observed</text>
<text x="234.5" y="152.10">Modeled (Basecase)</text>
<text x="234.5" y="194.20">Fire Impacts</text>
<text x="234.5" y="236.30">71 ppb</text>
</g>
</svg></body></html>
